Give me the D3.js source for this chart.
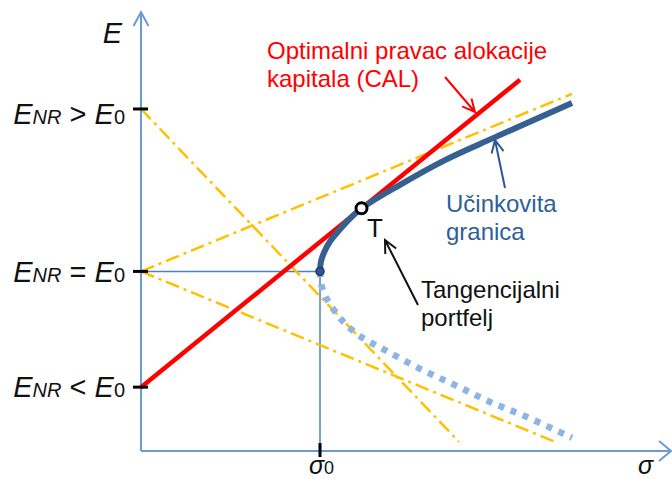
<html>
  <head>
    <style>
      body { margin: 0; background: #fff; }
      svg text { font-family: "Liberation Sans", Arial, sans-serif; }
    </style>
  </head>
  <body>
    <svg width="672" height="479"></svg>
    <script src="https://d3js.org/d3.v7.min.js"></script>
    <script>
      // values (sigma / expected return units)
      var sigmaZero = 3.58;
      var eLow = 1.6, eZero = 4.5, eHigh = 8.57;

      var frontierSigma = [3.58, 3.60, 3.67, 3.78, 3.94, 4.12, 4.41, 5.18, 6.08, 7.04, 8.62];
      var frontierE     = [4.50, 4.75, 5.00, 5.25, 5.50, 5.75, 6.08, 6.67, 7.29, 7.84, 8.72];

      var lowerSigma = [3.58, 3.61, 3.70, 3.85, 4.06, 4.38, 4.88, 5.58, 6.28, 6.98, 7.72, 8.62];
      var lowerE     = [4.50, 4.15, 3.85, 3.55, 3.22, 2.88, 2.53, 2.06, 1.65, 1.23, 0.85, 0.33];

      var calSigma = [0, 7.58];
      var calE     = [1.6, 9.3];

      var tangent = [4.41, 6.08];

      // yellow dash-dot helper lines
      var helperLines = [
        [[0, 8.57], [6.36, 0.23]],
        [[0, 4.5], [8.62, 8.95]],
        [[0, 4.5], [8.28, 0.23]]
      ];

      var svg = d3.select("svg");

      var x = d3.scaleLinear().domain([0, 10.6]).range([141, 671]),
          y = d3.scaleLinear().domain([0, 11]).range([451, 12]);

      var axisColor = "#6a9bd8";

      // axes
      svg.append("line")
          .attr("x1", x(0)).attr("y1", y(0))
          .attr("x2", x(0)).attr("y2", y(11))
          .attr("stroke", axisColor).attr("stroke-width", 2);
      svg.append("line")
          .attr("x1", x(0)).attr("y1", y(0))
          .attr("x2", x(10.6)).attr("y2", y(0))
          .attr("stroke", axisColor).attr("stroke-width", 2);
      svg.append("path")
          .attr("d", "M" + (x(0) - 7.5) + "," + (y(11) + 14) + "L" + x(0) + "," + y(11) + "L" + (x(0) + 7.5) + "," + (y(11) + 14))
          .attr("fill", "none").attr("stroke", axisColor).attr("stroke-width", 2);
      svg.append("path")
          .attr("d", "M" + (x(10.6) - 12) + "," + (y(0) - 10) + "L" + x(10.6) + "," + y(0) + "L" + (x(10.6) - 12) + "," + (y(0) + 10))
          .attr("fill", "none").attr("stroke", axisColor).attr("stroke-width", 2);

      // guide lines to minimum variance point
      svg.append("path")
          .attr("d", d3.line()([[x(0), y(eZero)], [x(sigmaZero), y(eZero)], [x(sigmaZero), y(0)]]))
          .attr("fill", "none").attr("stroke", "#4f81bd").attr("stroke-width", 1.5);

      var line = d3.line()
          .x(function(d) { return x(d[0]); })
          .y(function(d) { return y(d[1]); });

      // helper lines
      svg.append("g").selectAll("path")
          .data(helperLines)
          .enter().append("path")
          .attr("d", line)
          .attr("fill", "none")
          .attr("stroke", "#ffc000")
          .attr("stroke-width", 2.5)
          .attr("stroke-dasharray", "14,5,3,5");

      var curve = d3.line()
          .curve(d3.curveCatmullRom)
          .x(function(d) { return x(d[0]); })
          .y(function(d) { return y(d[1]); });

      // inefficient part of frontier
      svg.append("path")
          .datum(d3.zip(lowerSigma, lowerE))
          .attr("d", curve)
          .attr("fill", "none")
          .attr("stroke", "#8db4e2")
          .attr("stroke-width", 6.5)
          .attr("stroke-dasharray", "6,7");

      // CAL
      svg.append("path")
          .datum(d3.zip(calSigma, calE))
          .attr("d", line)
          .attr("fill", "none")
          .attr("stroke", "#ff0000")
          .attr("stroke-width", 4.5);

      // efficient frontier
      svg.append("path")
          .datum(d3.zip(frontierSigma, frontierE))
          .attr("d", curve)
          .attr("fill", "none")
          .attr("stroke", "#36608f")
          .attr("stroke-width", 6)
          .attr("stroke-linecap", "butt");

      // ticks
      svg.append("g").selectAll("line")
          .data([eLow, eZero, eHigh])
          .enter().append("line")
          .attr("x1", x(0) - 8).attr("x2", x(0) + 7)
          .attr("y1", function(d) { return y(d); })
          .attr("y2", function(d) { return y(d); })
          .attr("stroke", "#000").attr("stroke-width", 3);
      svg.append("line")
          .attr("x1", x(sigmaZero)).attr("x2", x(sigmaZero))
          .attr("y1", y(0) - 8).attr("y2", y(0) + 6)
          .attr("stroke", "#000").attr("stroke-width", 3);

      // points
      svg.append("circle")
          .attr("cx", x(sigmaZero)).attr("cy", y(eZero)).attr("r", 4)
          .attr("fill", "#2f5597").attr("stroke", "#1f3864").attr("stroke-width", 1.5);
      svg.append("circle")
          .attr("cx", x(tangent[0])).attr("cy", y(tangent[1])).attr("r", 5.5)
          .attr("fill", "#fff").attr("stroke", "#000").attr("stroke-width", 3);

      // y labels
      var yLabels = [
        { value: eHigh, sign: " > ", dy: 15 },
        { value: eZero, sign: " = ", dy: 10.5 },
        { value: eLow,  sign: " < ", dy: 10 }
      ];
      yLabels.forEach(function(l) {
        var t = svg.append("text")
            .attr("x", 125).attr("y", y(l.value) + l.dy)
            .attr("text-anchor", "end").attr("fill", "#111");
        t.append("tspan").attr("font-size", 29).attr("font-style", "italic").text("E");
        t.append("tspan").attr("font-size", 20).attr("font-style", "italic").text("NR");
        t.append("tspan").attr("font-size", 29).text(l.sign);
        t.append("tspan").attr("font-size", 29).attr("font-style", "italic").text("E");
        t.append("tspan").attr("font-size", 20).text("0");
      });

      svg.append("text")
          .attr("x", 122).attr("y", 43).attr("text-anchor", "end")
          .attr("font-size", 29).attr("font-style", "italic").attr("fill", "#111")
          .text("E");

      var s0 = svg.append("text")
          .attr("x", x(sigmaZero) - 11).attr("y", 473.5).attr("fill", "#111");
      s0.append("tspan").attr("font-size", 25).attr("font-style", "italic").text("σ");
      s0.append("tspan").attr("font-size", 18).text("0");

      svg.append("text")
          .attr("x", 638).attr("y", 473.5)
          .attr("font-size", 25).attr("font-style", "italic").attr("fill", "#111")
          .text("σ");

      // annotations
      function arrow(x1, y1, x2, y2, color) {
        var a = Math.atan2(y2 - y1, x2 - x1), L = 14, w = 0.45;
        svg.append("path")
            .attr("d", "M" + x1 + "," + y1 + "L" + x2 + "," + y2 +
                 "M" + (x2 - L * Math.cos(a - w)) + "," + (y2 - L * Math.sin(a - w)) +
                 "L" + x2 + "," + y2 +
                 "L" + (x2 - L * Math.cos(a + w)) + "," + (y2 - L * Math.sin(a + w)))
            .attr("fill", "none").attr("stroke", color).attr("stroke-width", 2);
      }
      arrow(445, 77, 475, 112, "#ff0000");
      arrow(505, 188, 495, 140, "#2f5597");
      arrow(418, 305, 385, 240, "#111");

      function label(lines, x0, y0, color, size) {
        var t = svg.append("text").attr("fill", color).attr("font-size", size);
        lines.forEach(function(s, i) {
          t.append("tspan").attr("x", x0).attr("y", y0 + i * 27.5).text(s);
        });
      }
      label(["Optimalni pravac alokacije", "kapitala (CAL)"], 267, 59, "#ff0000", 24);
      label(["Učinkovita", "granica"], 446, 212, "#2e5f99", 24);
      label(["Tangencijalni", "portfelj"], 421, 298, "#111", 24);
      label(["T"], 367, 237, "#111", 26);
    </script>
  </body>
</html>
